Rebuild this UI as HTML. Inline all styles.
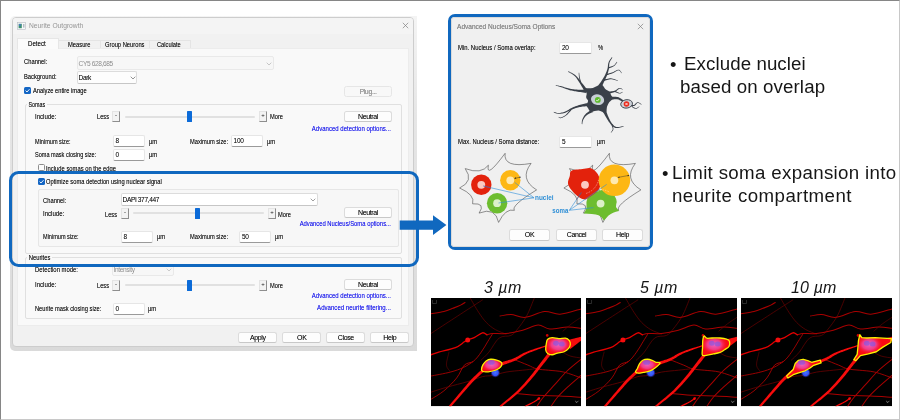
<!DOCTYPE html>
<html>
<head>
<meta charset="utf-8">
<title>Neurite Outgrowth</title>
<style>
html,body{margin:0;padding:0;}
body{width:900px;height:420px;position:relative;overflow:hidden;background:#fff;font-family:"Liberation Sans",sans-serif;}
#frame{position:absolute;left:0;top:0;width:898px;height:418px;border:1px solid;border-color:#868686 #c8c8c8 #c8c8c8 #868686;}
.abs{position:absolute;}
.t{position:absolute;font-size:7px;line-height:8px;color:#141414;white-space:nowrap;transform-origin:0 50%;text-shadow:0 0 0.5px rgba(0,0,0,0.5);}
.g{color:#9a9a9a;text-shadow:none;}
.lnk{color:#1515f2;text-shadow:0 0 0.5px rgba(26,26,214,0.5);left:auto;right:509px;transform-origin:100% 50%;}
.btn{position:absolute;box-sizing:border-box;background:#fdfdfd;border:1px solid #dcdcdc;border-bottom-color:#c8c8c8;border-radius:2.5px;font-size:7px;line-height:9px;text-align:center;color:#141414;letter-spacing:-0.38px;text-shadow:0 0 0.5px rgba(0,0,0,0.45);}
.inp{position:absolute;box-sizing:border-box;background:#fff;border:1px solid #e6e6e6;border-bottom:1px solid #9a9a9a;border-radius:2px;font-size:6.5px;line-height:9px;padding-left:2px;color:#1c1c1c;letter-spacing:-0.3px;text-shadow:0 0 0.5px rgba(0,0,0,0.4);}
.cmb{position:absolute;box-sizing:border-box;background:#fdfdfd;border:1px solid #dcdcdc;border-bottom-color:#c6c6c6;border-radius:2px;font-size:6.6px;line-height:11px;padding-left:0.5px;color:#1c1c1c;letter-spacing:-0.38px;text-shadow:0 0 0.5px rgba(0,0,0,0.4);}
.cmb.dis{background:#f7f7f7;border-color:#e9e9e9;color:#8e8e8e;text-shadow:none;}
.grp{position:absolute;box-sizing:border-box;border:1px solid #e0e0e0;border-radius:2px;}
.sbtn{position:absolute;box-sizing:border-box;width:8.4px;height:10.6px;background:#f3f3f3;border:1px solid #e4e4e4;border-right:1.2px solid #8e8e8e;border-bottom:1.2px solid #8e8e8e;font-size:6px;line-height:7.5px;text-align:center;color:#222;margin-left:-0.3px;}
.trk{position:absolute;height:2.4px;background:#e1e1e1;border-radius:1px;}
.thm{position:absolute;width:5.6px;height:11.3px;background:#0c6bd8;border-radius:0.6px;margin-left:-0.3px;}
.chk{position:absolute;box-sizing:border-box;width:7px;height:7px;border-radius:1.5px;}
.chk.on{background:#1466c4;}
.chk.off{background:#fcfcfc;border:1px solid #8c8c8c;}
.big{position:absolute;white-space:nowrap;color:#161616;will-change:transform;}
</style>
</head>
<body>
<div id="root" style="position:absolute;left:0;top:0;width:900px;height:420px;will-change:transform;">
<div id="frame"></div>

<!-- ===== Main dialog ===== -->
<div class="abs" style="left:10px;top:16px;width:407.2px;height:334.5px;border-radius:5px 0 0 5px;background:linear-gradient(to bottom,#f4f4f4 0,#e6e6e6 30%,#dadada 100%);"></div>
<div id="dlg1" class="abs" style="left:12px;top:17px;width:402px;height:329.8px;box-sizing:border-box;background:#f1f1f1;border:1px solid #cdcdcd;border-radius:4px;"></div>
<div class="abs" style="left:13px;top:18px;width:400px;height:15.6px;background:#f4f4f4;border-radius:3px 3px 0 0;"></div>
<div id="panel1" class="abs" style="left:17px;top:48px;width:392.3px;height:277.6px;background:#f9f9f9;border:1px solid #ececec;box-sizing:border-box;"></div>

<!-- title -->
<svg class="abs" style="left:17px;top:22px" width="9" height="8" viewBox="0 0 9 8"><rect x="0.5" y="0.5" width="8" height="7" fill="#f7f8f9" stroke="#b4bac0" stroke-width="0.6"/><rect x="1.6" y="1.8" width="3.2" height="4.4" fill="#3c8f70"/><rect x="2" y="2" width="1.8" height="1.8" fill="#4a78c4"/><rect x="6.4" y="2" width="0.9" height="3.6" fill="#8a949e"/></svg>
<div class="t g" style="left:29px;top:22px;font-size:7.3px;color:#949494;transform:scaleX(0.916)">Neurite Outgrowth</div>
<svg class="abs" style="left:402px;top:22px" width="7" height="7" viewBox="0 0 7 7"><path d="M0.8 0.8 L6.2 6.2 M6.2 0.8 L0.8 6.2" stroke="#808080" stroke-width="0.7" fill="none"/></svg>

<!-- tabs -->
<div class="abs" style="left:58px;top:40px;width:133px;height:8px;background:#f1f1f1;border-top:1px solid #e4e4e4;border-right:1px solid #e4e4e4;box-sizing:border-box;"></div>
<div class="abs" style="left:100px;top:40px;width:1px;height:8px;background:#e4e4e4"></div>
<div class="abs" style="left:149px;top:40px;width:1px;height:8px;background:#e4e4e4"></div>
<div class="abs" style="left:17px;top:38px;width:42px;height:11px;background:#fbfbfb;border:1px solid #e6e6e6;border-bottom:none;box-sizing:border-box;"></div>
<div class="t" style="left:28px;top:40px;transform:scaleX(0.877)">Detect</div>
<div class="t" style="left:68px;top:41px;transform:scaleX(0.826)">Measure</div>
<div class="t" style="left:105px;top:41px;transform:scaleX(0.825)">Group Neurons</div>
<div class="t" style="left:157px;top:41px;transform:scaleX(0.814)">Calculate</div>

<!-- channel / background -->
<div class="t" style="left:24px;top:58px;transform:scaleX(0.829)">Channel:</div>
<div class="cmb dis" style="left:77px;top:56px;width:197px;height:14px;line-height:13px">CY5 628,685</div>
<svg class="abs" style="left:266px;top:62px" width="6" height="4" viewBox="0 0 6 4"><path d="M0.7 0.7 L3 3 L5.3 0.7" stroke="#b0b0b0" stroke-width="0.7" fill="none"/></svg>
<div class="t" style="left:24px;top:73px;transform:scaleX(0.827)">Background:</div>
<div class="cmb" style="left:77px;top:71px;width:60px;height:13px;line-height:12px">Dark</div>
<svg class="abs" style="left:130px;top:76px" width="6" height="4" viewBox="0 0 6 4"><path d="M0.7 0.7 L3 3 L5.3 0.7" stroke="#666" stroke-width="0.7" fill="none"/></svg>
<div class="chk on" style="left:24px;top:87px"></div>
<svg class="abs" style="left:24px;top:87px" width="7" height="7" viewBox="0 0 7 7"><path d="M1.6 3.6 L3 5 L5.5 2.2" stroke="#fff" stroke-width="0.9" fill="none"/></svg>
<div class="t" style="left:33px;top:87px;transform:scaleX(0.822)">Analyze entire image</div>
<div class="btn" style="left:344px;top:86px;width:48px;height:11px;color:#a0a0a0;background:#f8f8f8;border-color:#e6e6e6">Plug...</div>

<!-- Somas group -->
<div class="grp" style="left:25px;top:104px;width:376.6px;height:150px"></div>
<div class="t" style="left:27px;top:100.6px;background:#f9f9f9;padding:0 2px;transform:scaleX(0.768)">Somas</div>
<div class="t" style="left:35px;top:112.6px;transform:scaleX(0.866)">Include:</div>
<div class="t" style="left:97px;top:112.6px;transform:scaleX(0.811)">Less</div>
<div class="sbtn" style="left:112px;top:111px">-</div>
<div class="trk" style="left:125px;top:116px;width:130px;"></div>
<div class="thm" style="left:187px;top:111px;"></div>
<div class="sbtn" style="left:259px;top:111px">+</div>
<div class="t" style="left:270px;top:112.6px;transform:scaleX(0.815)">More</div>
<div class="btn" style="left:344px;top:111px;width:48px;height:11px">Neutral</div>
<div class="t lnk" style="top:125px;transform:scaleX(0.860)">Advanced detection options...</div>
<div class="t" style="left:35px;top:137.6px;transform:scaleX(0.794)">Minimum size:</div>
<div class="inp" style="left:112.5px;top:135px;width:32px;height:12px">8</div>
<div class="t" style="left:149px;top:137.6px;transform:scaleX(0.835)">µm</div>
<div class="t" style="left:190px;top:137.6px;transform:scaleX(0.814)">Maximum size:</div>
<div class="inp" style="left:230.6px;top:135px;width:32.2px;height:12px">100</div>
<div class="t" style="left:267px;top:137.6px;transform:scaleX(0.835)">µm</div>
<div class="t" style="left:35px;top:150.6px;transform:scaleX(0.795)">Soma mask closing size:</div>
<div class="inp" style="left:112.5px;top:149px;width:32px;height:12px">0</div>
<div class="t" style="left:149px;top:150.6px;transform:scaleX(0.835)">µm</div>
<div class="chk off" style="left:38px;top:164px"></div>
<div class="t" style="left:46px;top:164.6px;transform:scaleX(0.833)">Include somas on the edge</div>
<div class="chk on" style="left:38px;top:178px"></div>
<svg class="abs" style="left:38px;top:178px" width="7" height="7" viewBox="0 0 7 7"><path d="M1.6 3.6 L3 5 L5.5 2.2" stroke="#fff" stroke-width="0.9" fill="none"/></svg>
<div class="t" style="left:46px;top:178px;transform:scaleX(0.822)">Optimize soma detection using nuclear signal</div>

<!-- nuclear sub group -->
<div class="grp" style="left:38px;top:189px;width:361px;height:58px;background:#f7f7f7;border-color:#e6e6e6"></div>
<div class="t" style="left:43px;top:197.0px;transform:scaleX(0.829)">Channel:</div>
<div class="cmb" style="left:121px;top:193px;width:197px;height:13px;line-height:12px;background:#fff">DAPI 377,447</div>
<svg class="abs" style="left:310px;top:198px" width="6" height="4" viewBox="0 0 6 4"><path d="M0.7 0.7 L3 3 L5.3 0.7" stroke="#777" stroke-width="0.7" fill="none"/></svg>
<div class="t" style="left:43px;top:209.7px;transform:scaleX(0.866)">Include:</div>
<div class="t" style="left:105px;top:211.0px;transform:scaleX(0.811)">Less</div>
<div class="sbtn" style="left:121px;top:208px">-</div>
<div class="trk" style="left:133px;top:212px;width:131px;"></div>
<div class="thm" style="left:195px;top:208px;"></div>
<div class="sbtn" style="left:268px;top:208px">+</div>
<div class="t" style="left:278px;top:211.0px;transform:scaleX(0.815)">More</div>
<div class="btn" style="left:344px;top:207px;width:48px;height:11px">Neutral</div>
<div class="t lnk" style="top:220px;transform:scaleX(0.838)">Advanced Nucleus/Soma options...</div>
<div class="t" style="left:43px;top:232.6px;transform:scaleX(0.794)">Minimum size:</div>
<div class="inp" style="left:120.6px;top:231px;width:32px;height:12px">8</div>
<div class="t" style="left:157px;top:232.6px;transform:scaleX(0.835)">µm</div>
<div class="t" style="left:190px;top:232.6px;transform:scaleX(0.814)">Maximum size:</div>
<div class="inp" style="left:239px;top:231px;width:32px;height:12px">50</div>
<div class="t" style="left:275px;top:232.6px;transform:scaleX(0.835)">µm</div>

<!-- Neurites group -->
<div class="grp" style="left:25px;top:257px;width:376.6px;height:61.6px"></div>
<div class="t" style="left:27px;top:254px;background:#f9f9f9;padding:0 2px;transform:scaleX(0.834)">Neurites</div>
<div class="t" style="left:35px;top:266px;transform:scaleX(0.843)">Detection mode:</div>
<div class="cmb dis" style="left:112px;top:265px;width:61.5px;height:10.5px;line-height:7.6px">Intensity</div>
<svg class="abs" style="left:166px;top:268px" width="6" height="4" viewBox="0 0 6 4"><path d="M0.7 0.7 L3 3 L5.3 0.7" stroke="#b8b8b8" stroke-width="0.7" fill="none"/></svg>
<div class="t" style="left:35px;top:281px;transform:scaleX(0.866)">Include:</div>
<div class="t" style="left:97px;top:282px;transform:scaleX(0.811)">Less</div>
<div class="sbtn" style="left:112px;top:280px">-</div>
<div class="trk" style="left:125px;top:284px;width:130px;"></div>
<div class="thm" style="left:187px;top:280px;"></div>
<div class="sbtn" style="left:259px;top:280px">+</div>
<div class="t" style="left:270px;top:282px;transform:scaleX(0.815)">More</div>
<div class="btn" style="left:344px;top:279px;width:48px;height:11px">Neutral</div>
<div class="t lnk" style="top:292px;transform:scaleX(0.860)">Advanced detection options...</div>
<div class="t lnk" style="top:304px;transform:scaleX(0.869)">Advanced neurite filtering...</div>
<div class="t" style="left:35px;top:305px;transform:scaleX(0.815)">Neurite mask closing size:</div>
<div class="inp" style="left:112.5px;top:303px;width:32px;height:12px">0</div>
<div class="t" style="left:148px;top:305px;transform:scaleX(0.835)">µm</div>

<!-- bottom buttons -->
<div class="btn" style="left:238.3px;top:331.6px;width:39px;height:11px">Apply</div>
<div class="btn" style="left:282.3px;top:331.6px;width:39px;height:11px">OK</div>
<div class="btn" style="left:326.3px;top:331.6px;width:39px;height:11px">Close</div>
<div class="btn" style="left:370.3px;top:331.6px;width:39px;height:11px">Help</div>

<!-- blue highlight + arrow -->
<div class="abs" style="left:8.6px;top:171.2px;width:410.6px;height:95.4px;box-sizing:border-box;border:3.1px solid #1068bf;border-radius:9.5px;"></div>
<svg class="abs" style="left:398px;top:212px" width="50" height="26" viewBox="398 212 50 26"><path d="M399.7 220.4 H433 V215.2 L446.4 225 L433 234.9 V229.7 H399.7 Z" fill="#1068bf"/></svg>

<!-- ===== Advanced dialog ===== -->
<div class="abs" style="left:448px;top:13.7px;width:205px;height:236.5px;box-sizing:border-box;border:3.1px solid #1068bf;border-radius:7px;background:#fbfbfb;"></div>
<div class="abs" style="left:451px;top:17px;width:199px;height:230px;box-sizing:border-box;border:1px solid #dadada;border-radius:3px;background:#f0f0f0;"></div>
<div class="t" style="left:457px;top:23px;font-size:7.3px;color:#949494;transform:scaleX(0.900)">Advanced Nucleus/Soma Options</div>
<svg class="abs" style="left:637px;top:23px" width="7" height="7" viewBox="0 0 7 7"><path d="M0.8 0.8 L6.2 6.2 M6.2 0.8 L0.8 6.2" stroke="#808080" stroke-width="0.7" fill="none"/></svg>
<div class="t" style="left:458px;top:44px;transform:scaleX(0.848)">Min. Nucleus / Soma overlap:</div>
<div class="inp" style="left:559px;top:42px;width:33px;height:12px">20</div>
<div class="t" style="left:598px;top:44px;transform:scaleX(0.829)">%</div>
<div class="t" style="left:458px;top:137.9px;transform:scaleX(0.842)">Max. Nucleus / Soma distance:</div>
<div class="inp" style="left:559px;top:135.6px;width:33px;height:12.2px">5</div>
<div class="t" style="left:597px;top:137.5px;transform:scaleX(0.835)">µm</div>
<div class="btn" style="left:509px;top:229px;width:41px;height:12px;line-height:10px">OK</div>
<div class="btn" style="left:556px;top:229px;width:41px;height:12px;line-height:10px">Cancel</div>
<div class="btn" style="left:602px;top:229px;width:41px;height:12px;line-height:10px">Help</div>

<!-- neuron + diagrams -->
<svg class="abs" style="left:548px;top:54px" width="100" height="82" viewBox="548 54 100 82">
<g fill="#3a4049">
<path d="M601.73 87.42 L601.90 86.54 L602.35 85.46 L602.94 84.19 L603.61 82.80 L604.32 81.35 L605.02 79.91 L605.66 78.55 L606.21 77.33 L606.66 76.23 L607.07 75.18 L607.44 74.16 L607.77 73.18 L608.08 72.22 L608.35 71.28 L608.59 70.35 L608.82 69.42 L608.99 68.48 L609.10 67.55 L609.15 66.65 L609.18 65.79 L609.22 64.97 L609.27 64.19 L609.38 63.44 L609.54 62.74 L609.80 62.03 L610.15 61.28 L610.55 60.54 L610.98 59.82 L611.41 59.14 L611.81 58.53 L612.15 58.02 L612.39 57.62 L611.80 57.24 L611.54 57.61 L611.19 58.10 L610.75 58.69 L610.28 59.35 L609.79 60.07 L609.32 60.83 L608.89 61.61 L608.55 62.40 L608.31 63.21 L608.14 64.03 L608.02 64.86 L607.94 65.71 L607.85 66.55 L607.74 67.39 L607.59 68.22 L607.37 69.06 L607.10 69.91 L606.80 70.79 L606.47 71.67 L606.11 72.56 L605.71 73.47 L605.28 74.41 L604.80 75.39 L604.27 76.39 L603.64 77.50 L602.89 78.74 L602.05 80.07 L601.17 81.39 L600.30 82.66 L599.49 83.79 L598.76 84.73 L598.08 85.34Z"/>
<path d="M608.88 68.38 L609.26 68.16 L609.79 67.95 L610.45 67.72 L611.18 67.46 L611.95 67.17 L612.70 66.85 L613.40 66.50 L614.02 66.12 L614.56 65.66 L615.07 65.13 L615.55 64.56 L615.99 63.97 L616.38 63.40 L616.73 62.89 L617.02 62.46 L617.25 62.15 L616.85 61.85 L616.60 62.15 L616.29 62.57 L615.92 63.07 L615.51 63.60 L615.06 64.15 L614.58 64.67 L614.09 65.13 L613.60 65.50 L613.04 65.80 L612.38 66.08 L611.64 66.32 L610.89 66.54 L610.15 66.73 L609.48 66.88 L608.90 67.00 L608.45 67.05Z"/>
<path d="M606.99 75.34 L607.43 75.11 L608.05 74.88 L608.79 74.62 L609.62 74.34 L610.49 74.04 L611.38 73.73 L612.23 73.41 L613.03 73.10 L613.80 72.73 L614.58 72.29 L615.35 71.82 L616.10 71.36 L616.81 70.94 L617.47 70.61 L618.06 70.39 L618.55 70.33 L618.98 70.42 L619.40 70.67 L619.83 71.06 L620.23 71.53 L620.59 72.03 L620.91 72.51 L621.19 72.92 L621.42 73.20 L621.82 72.89 L621.61 72.63 L621.35 72.22 L621.04 71.72 L620.68 71.19 L620.26 70.66 L619.78 70.19 L619.22 69.84 L618.59 69.67 L617.91 69.74 L617.21 69.96 L616.47 70.29 L615.71 70.69 L614.94 71.12 L614.17 71.55 L613.41 71.93 L612.68 72.24 L611.91 72.49 L611.06 72.75 L610.17 73.00 L609.29 73.23 L608.45 73.44 L607.68 73.62 L607.04 73.75 L606.53 73.81Z"/>
<path d="M604.11 81.06 L604.64 80.81 L605.35 80.54 L606.20 80.24 L607.14 79.93 L608.13 79.64 L609.12 79.40 L610.07 79.23 L610.94 79.17 L611.81 79.23 L612.76 79.39 L613.74 79.63 L614.72 79.92 L615.65 80.22 L616.49 80.50 L617.20 80.74 L617.73 80.90 L617.89 80.43 L617.37 80.25 L616.68 79.99 L615.85 79.66 L614.92 79.32 L613.93 78.99 L612.92 78.69 L611.92 78.47 L610.96 78.35 L609.99 78.37 L608.96 78.48 L607.90 78.66 L606.86 78.88 L605.88 79.11 L605.00 79.32 L604.26 79.48 L603.70 79.51Z"/>
<path d="M586.92 88.80 L586.33 88.37 L585.70 87.67 L584.99 86.82 L584.22 85.87 L583.42 84.86 L582.64 83.85 L581.90 82.89 L581.23 82.04 L580.63 81.27 L580.05 80.50 L579.48 79.75 L578.92 79.02 L578.37 78.31 L577.83 77.65 L577.29 77.02 L576.75 76.44 L576.22 75.92 L575.71 75.47 L575.21 75.06 L574.71 74.70 L574.23 74.36 L573.73 74.05 L573.24 73.74 L572.72 73.43 L572.14 73.10 L571.51 72.77 L570.86 72.45 L570.21 72.15 L569.59 71.87 L569.04 71.62 L568.57 71.42 L568.23 71.26 L567.96 71.79 L568.30 71.97 L568.75 72.21 L569.29 72.49 L569.89 72.80 L570.51 73.14 L571.12 73.49 L571.71 73.84 L572.23 74.19 L572.72 74.53 L573.19 74.86 L573.63 75.19 L574.07 75.54 L574.50 75.91 L574.93 76.31 L575.37 76.76 L575.83 77.28 L576.29 77.85 L576.75 78.48 L577.22 79.16 L577.70 79.89 L578.18 80.65 L578.68 81.45 L579.19 82.27 L579.72 83.10 L580.29 84.01 L580.91 85.04 L581.57 86.13 L582.21 87.23 L582.82 88.30 L583.34 89.27 L583.76 90.11 L583.94 90.82Z"/>
<path d="M581.21 82.03 L581.01 81.63 L580.83 81.07 L580.62 80.41 L580.41 79.68 L580.21 78.91 L580.01 78.15 L579.84 77.43 L579.70 76.80 L579.60 76.20 L579.51 75.60 L579.43 74.99 L579.37 74.41 L579.32 73.86 L579.27 73.38 L579.23 72.96 L579.20 72.65 L578.70 72.69 L578.72 73.00 L578.73 73.41 L578.75 73.90 L578.77 74.45 L578.80 75.05 L578.84 75.67 L578.90 76.30 L578.96 76.92 L579.06 77.58 L579.17 78.32 L579.31 79.11 L579.44 79.89 L579.57 80.65 L579.68 81.34 L579.75 81.91 L579.74 82.35Z"/>
<path d="M586.32 89.54 L585.55 89.71 L584.53 89.77 L583.32 89.79 L581.99 89.80 L580.61 89.78 L579.23 89.74 L577.93 89.68 L576.78 89.61 L575.74 89.52 L574.75 89.43 L573.80 89.33 L572.88 89.21 L571.97 89.08 L571.06 88.93 L570.15 88.77 L569.22 88.58 L568.26 88.35 L567.29 88.08 L566.30 87.79 L565.30 87.47 L564.32 87.16 L563.36 86.85 L562.43 86.57 L561.55 86.33 L560.69 86.12 L559.83 85.93 L558.98 85.75 L558.17 85.59 L557.43 85.45 L556.76 85.32 L556.21 85.22 L555.78 85.14 L555.65 85.72 L556.08 85.83 L556.63 85.96 L557.28 86.11 L558.02 86.29 L558.81 86.49 L559.64 86.71 L560.48 86.94 L561.30 87.19 L562.15 87.47 L563.04 87.80 L563.97 88.15 L564.94 88.53 L565.92 88.90 L566.91 89.26 L567.90 89.60 L568.88 89.90 L569.83 90.16 L570.75 90.40 L571.68 90.61 L572.60 90.81 L573.54 91.00 L574.50 91.18 L575.50 91.36 L576.55 91.53 L577.73 91.72 L579.04 91.90 L580.43 92.09 L581.82 92.28 L583.14 92.46 L584.34 92.65 L585.33 92.84 L586.06 93.13Z"/>
<path d="M587.46 102.88 L586.94 103.15 L586.23 103.34 L585.36 103.54 L584.38 103.74 L583.34 103.96 L582.27 104.20 L581.22 104.45 L580.22 104.72 L579.27 105.00 L578.32 105.31 L577.36 105.63 L576.40 105.97 L575.43 106.33 L574.47 106.71 L573.50 107.11 L572.54 107.53 L571.56 108.01 L570.58 108.54 L569.61 109.10 L568.66 109.66 L567.72 110.21 L566.80 110.73 L565.90 111.18 L565.04 111.56 L564.18 111.88 L563.32 112.16 L562.47 112.40 L561.63 112.61 L560.82 112.78 L560.03 112.90 L559.28 112.98 L558.58 113.02 L557.90 112.99 L557.22 112.88 L556.54 112.72 L555.89 112.52 L555.28 112.31 L554.74 112.10 L554.27 111.93 L553.91 111.81 L553.71 112.38 L554.06 112.50 L554.50 112.69 L555.04 112.92 L555.66 113.17 L556.33 113.41 L557.05 113.62 L557.80 113.77 L558.56 113.84 L559.33 113.83 L560.13 113.78 L560.96 113.69 L561.82 113.56 L562.70 113.38 L563.60 113.17 L564.51 112.92 L565.44 112.63 L566.39 112.28 L567.36 111.85 L568.33 111.37 L569.32 110.86 L570.30 110.36 L571.28 109.87 L572.23 109.42 L573.18 109.04 L574.12 108.70 L575.07 108.37 L576.03 108.07 L576.98 107.79 L577.94 107.53 L578.88 107.30 L579.82 107.09 L580.73 106.90 L581.68 106.74 L582.69 106.61 L583.73 106.50 L584.76 106.42 L585.73 106.37 L586.62 106.34 L587.37 106.34 L587.97 106.45Z"/>
<path d="M570.77 108.75 L570.44 109.28 L569.95 109.95 L569.35 110.73 L568.69 111.58 L567.98 112.45 L567.27 113.28 L566.57 114.03 L565.93 114.64 L565.30 115.16 L564.64 115.64 L563.96 116.09 L563.29 116.49 L562.64 116.84 L562.02 117.13 L561.46 117.36 L560.98 117.52 L560.58 117.60 L560.23 117.58 L559.91 117.50 L559.61 117.37 L559.34 117.22 L559.10 117.06 L558.87 116.91 L558.68 116.82 L558.46 117.27 L558.62 117.35 L558.81 117.48 L559.06 117.66 L559.37 117.84 L559.72 118.01 L560.14 118.13 L560.61 118.17 L561.12 118.09 L561.66 117.93 L562.27 117.70 L562.92 117.42 L563.61 117.08 L564.33 116.70 L565.05 116.26 L565.76 115.78 L566.45 115.26 L567.17 114.64 L567.93 113.90 L568.71 113.09 L569.48 112.25 L570.21 111.45 L570.87 110.72 L571.44 110.12 L571.90 109.73Z"/>
<path d="M591.43 109.29 L591.08 109.78 L590.49 110.26 L589.74 110.80 L588.90 111.39 L588.02 112.01 L587.15 112.66 L586.34 113.32 L585.64 113.97 L585.05 114.64 L584.52 115.33 L584.04 116.05 L583.61 116.77 L583.22 117.49 L582.88 118.19 L582.58 118.87 L582.31 119.53 L582.10 120.19 L581.95 120.87 L581.85 121.54 L581.79 122.18 L581.76 122.78 L581.74 123.30 L581.73 123.73 L581.70 124.06 L582.30 124.13 L582.35 123.79 L582.40 123.35 L582.46 122.84 L582.54 122.27 L582.64 121.67 L582.79 121.06 L582.97 120.47 L583.21 119.90 L583.51 119.32 L583.86 118.71 L584.25 118.08 L584.67 117.44 L585.14 116.82 L585.64 116.23 L586.18 115.67 L586.74 115.17 L587.39 114.69 L588.19 114.21 L589.08 113.74 L590.00 113.30 L590.91 112.91 L591.76 112.57 L592.51 112.31 L593.14 112.23Z"/>
<path d="M602.75 111.94 L603.25 112.43 L603.73 113.18 L604.27 114.11 L604.86 115.14 L605.46 116.23 L606.06 117.32 L606.65 118.34 L607.20 119.25 L607.71 120.07 L608.22 120.86 L608.73 121.63 L609.24 122.37 L609.76 123.08 L610.28 123.75 L610.82 124.38 L611.37 124.96 L611.90 125.49 L612.42 125.99 L612.95 126.47 L613.50 126.91 L614.09 127.31 L614.73 127.64 L615.44 127.89 L616.21 128.04 L617.11 128.07 L618.12 127.97 L619.18 127.78 L620.26 127.54 L621.30 127.27 L622.24 127.02 L623.01 126.81 L623.58 126.68 L623.46 126.09 L622.88 126.19 L622.08 126.35 L621.13 126.55 L620.10 126.75 L619.04 126.92 L618.01 127.04 L617.10 127.08 L616.36 127.00 L615.76 126.84 L615.22 126.60 L614.73 126.30 L614.26 125.94 L613.81 125.53 L613.37 125.06 L612.91 124.54 L612.44 123.99 L611.98 123.42 L611.53 122.81 L611.10 122.15 L610.67 121.44 L610.24 120.70 L609.82 119.91 L609.41 119.10 L608.99 118.27 L608.57 117.35 L608.12 116.31 L607.67 115.19 L607.24 114.05 L606.85 112.94 L606.51 111.93 L606.26 111.06 L606.20 110.35Z"/>
<path d="M611.23 124.67 L611.44 125.04 L611.66 125.54 L611.91 126.14 L612.16 126.79 L612.38 127.46 L612.56 128.12 L612.67 128.71 L612.69 129.20 L612.60 129.62 L612.41 130.07 L612.15 130.53 L611.84 130.97 L611.51 131.38 L611.20 131.75 L610.94 132.07 L610.75 132.32 L611.15 132.63 L611.33 132.40 L611.61 132.11 L611.94 131.75 L612.30 131.34 L612.67 130.88 L612.99 130.39 L613.25 129.85 L613.41 129.28 L613.43 128.66 L613.36 127.97 L613.23 127.25 L613.06 126.52 L612.88 125.82 L612.71 125.19 L612.59 124.67 L612.58 124.28Z"/>
<path d="M608.91 93.94 L609.34 93.67 L609.96 93.47 L610.72 93.25 L611.57 93.03 L612.47 92.78 L613.36 92.52 L614.22 92.23 L615.00 91.91 L615.72 91.52 L616.40 91.05 L617.03 90.54 L617.63 90.03 L618.19 89.56 L618.71 89.14 L619.19 88.83 L619.61 88.65 L620.00 88.59 L620.40 88.63 L620.80 88.75 L621.20 88.93 L621.57 89.14 L621.91 89.35 L622.22 89.53 L622.46 89.65 L622.69 89.21 L622.48 89.09 L622.21 88.90 L621.88 88.66 L621.49 88.40 L621.05 88.16 L620.56 87.98 L620.01 87.88 L619.44 87.92 L618.85 88.12 L618.26 88.44 L617.65 88.84 L617.04 89.28 L616.41 89.72 L615.78 90.14 L615.15 90.49 L614.52 90.75 L613.82 90.95 L613.01 91.12 L612.15 91.25 L611.26 91.35 L610.41 91.43 L609.63 91.47 L608.95 91.48 L608.42 91.39Z"/>
<path d="M614.50 91.93 L614.91 92.01 L615.44 92.21 L616.07 92.47 L616.77 92.75 L617.50 93.04 L618.22 93.29 L618.89 93.48 L619.49 93.57 L620.04 93.56 L620.56 93.44 L621.04 93.26 L621.47 93.04 L621.86 92.81 L622.20 92.60 L622.47 92.43 L622.68 92.32 L622.46 91.87 L622.23 91.98 L621.93 92.15 L621.59 92.34 L621.22 92.53 L620.81 92.71 L620.40 92.84 L619.97 92.91 L619.56 92.90 L619.07 92.79 L618.47 92.58 L617.81 92.29 L617.13 91.96 L616.48 91.61 L615.88 91.28 L615.38 90.99 L615.02 90.74Z"/>
<path d="M611.39 99.79 L611.90 99.63 L612.58 99.51 L613.37 99.40 L614.23 99.30 L615.11 99.22 L615.97 99.18 L616.74 99.19 L617.39 99.26 L617.96 99.40 L618.53 99.59 L619.11 99.84 L619.68 100.13 L620.24 100.45 L620.80 100.79 L621.36 101.13 L621.89 101.44 L622.40 101.74 L622.91 102.06 L623.41 102.40 L623.88 102.74 L624.33 103.06 L624.72 103.35 L625.06 103.59 L625.33 103.78 L626.29 102.50 L626.04 102.31 L625.72 102.05 L625.34 101.74 L624.90 101.38 L624.42 101.01 L623.92 100.62 L623.39 100.24 L622.87 99.89 L622.36 99.55 L621.84 99.19 L621.28 98.80 L620.68 98.41 L620.04 98.03 L619.36 97.68 L618.64 97.37 L617.85 97.12 L616.98 96.95 L616.05 96.85 L615.08 96.80 L614.13 96.78 L613.22 96.76 L612.41 96.75 L611.76 96.72 L611.28 96.59Z"/>
<path d="M630.79 105.83 L631.03 105.80 L631.34 105.84 L631.75 105.92 L632.22 106.01 L632.74 106.08 L633.28 106.11 L633.83 106.06 L634.38 105.91 L634.89 105.59 L635.35 105.17 L635.78 104.69 L636.19 104.19 L636.59 103.72 L636.98 103.33 L637.34 103.05 L637.67 102.93 L638.04 102.93 L638.51 103.06 L639.04 103.30 L639.58 103.60 L640.10 103.93 L640.58 104.24 L640.99 104.51 L641.30 104.69 L641.56 104.26 L641.27 104.08 L640.89 103.80 L640.42 103.46 L639.90 103.09 L639.33 102.74 L638.75 102.45 L638.17 102.26 L637.57 102.22 L637.00 102.39 L636.49 102.73 L636.01 103.15 L635.55 103.62 L635.11 104.08 L634.70 104.49 L634.32 104.79 L634.00 104.95 L633.68 105.01 L633.31 105.00 L632.90 104.93 L632.49 104.82 L632.09 104.69 L631.72 104.54 L631.38 104.40 L631.11 104.26Z"/>
<path d="M631.20 106.70 L631.56 106.83 L632.01 107.09 L632.56 107.43 L633.16 107.80 L633.80 108.16 L634.45 108.48 L635.09 108.70 L635.71 108.79 L636.31 108.70 L636.90 108.47 L637.47 108.15 L638.02 107.78 L638.53 107.39 L638.98 107.03 L639.35 106.74 L639.63 106.55 L639.41 106.21 L639.11 106.40 L638.72 106.69 L638.25 107.02 L637.74 107.37 L637.21 107.69 L636.67 107.96 L636.16 108.12 L635.72 108.17 L635.27 108.07 L634.74 107.84 L634.17 107.52 L633.60 107.13 L633.05 106.71 L632.56 106.32 L632.14 105.97 L631.84 105.68Z"/>
<path d="M583.9 88.7 C585.0 87.8 590.0 88.6 592.9 87.9 C595.7 87.2 598.9 84.3 601.0 84.5 C603.2 84.7 604.2 88.0 605.6 89.2 C607.0 90.4 608.5 90.7 609.4 91.7 C610.4 92.8 610.8 94.4 611.3 95.5 C611.9 96.6 613.2 97.3 612.9 98.4 C612.5 99.5 610.4 100.7 609.4 102.0 C608.5 103.3 607.8 104.6 607.1 106.4 C606.5 108.2 607.0 112.0 605.6 112.7 C604.2 113.3 601.0 110.6 598.6 110.4 C596.1 110.2 592.7 111.9 591.0 111.5 C589.2 111.2 588.8 109.4 588.1 108.3 C587.4 107.2 586.6 106.3 586.6 105.0 C586.6 103.8 588.2 101.9 588.1 100.7 C588.0 99.4 586.4 98.7 586.2 97.4 C585.9 96.2 587.0 94.5 586.6 93.0 C586.2 91.6 582.9 89.5 583.9 88.7Z"/>
</g>
<ellipse cx="597.6" cy="99.7" rx="6.7" ry="5.3" transform="rotate(14 597.6 99.7)" fill="#c7ced6"/>
<circle cx="597.8" cy="99.9" r="2.9" fill="#5dbb2d"/><path d="M596.3 100 L597.4 101.1 L599.3 98.8" stroke="#fff" stroke-width="0.8" fill="none"/>
<ellipse cx="626.6" cy="103.9" rx="5.9" ry="4.2" transform="rotate(-8 626.6 103.9)" fill="#cdd2d9" stroke="#3a4049" stroke-width="0.9"/>
<circle cx="626.5" cy="104" r="2.8" fill="#ea2a1c"/><path d="M625.4 102.9 L627.6 105.1 M627.6 102.9 L625.4 105.1" stroke="#fff" stroke-width="0.8" fill="none"/>
</svg>
<svg class="abs" style="left:452px;top:148px" width="198" height="80" viewBox="452 148 198 80">
<path d="M465.2 168.6 Q481.4 174.7 488.4 165.2 Q485.6 179.7 505.1 153.3 Q503.2 168.4 531.1 163.4 Q519.0 179.0 536.6 189.9 Q510.7 205.7 514.4 210.3 Q505.6 208.0 498.6 222.4 Q495.4 206.6 479.1 213.1 Q486.1 202.9 472.6 203.8 Q475.4 195.0 459.6 188.0 Q474.3 181.1 465.2 168.6Z" fill="none" stroke="#3c3c3c" stroke-width="0.55" stroke-linejoin="miter"/>
<circle cx="481.3" cy="184.8" r="10.2" fill="#e3220c"/><circle cx="481.3" cy="184.8" r="3.9" fill="#fbc9c2"/>
<circle cx="510.3" cy="180.3" r="10.2" fill="#fdb714"/><circle cx="510.3" cy="180.3" r="3.9" fill="#fee9b0"/>
<circle cx="497.1" cy="203.2" r="10.2" fill="#6dbd2f"/><circle cx="497.1" cy="203.2" r="3.9" fill="#dcf0c8"/>
<path d="M514.5 178.4 L520.8 177" stroke="#333" stroke-width="0.45"/><path d="M514.3 178.4 l1.6 -1.1 l0.3 1.4z M521 177 l-1.7 -0.3 l0.3 1.4z" fill="#222"/>
<g stroke="#2f8fd6" stroke-width="0.6" fill="none"><path d="M483.4 186 L534 197.8"/><path d="M514.7 182.4 L534 197.8"/><path d="M498.5 203 L534 197.8"/></g>
<path d="M483.4 186 L491 187.8" stroke="#7a4a80" stroke-width="0.6" fill="none"/>
<path d="M569.5 168.6 Q585.7 174.7 592.7 165.2 Q589.9 179.7 609.4 153.3 Q607.5 168.4 635.4 163.4 Q623.3 179.0 640.9 189.9 Q615.0 205.7 618.7 210.3 Q609.9 208.0 602.9 222.4 Q599.7 206.6 583.4 213.1 Q590.4 202.9 576.9 203.8 Q579.7 195.0 563.9 188.0 Q578.6 181.1 569.5 168.6Z" fill="none" stroke="#3c3c3c" stroke-width="0.55"/>
<path d="M596.5 191.0 Q599.9 189.3 604.3 190.3 Q608.6 191.2 612.0 193.6 Q615.3 196.0 616.2 199.0 Q617.2 202.0 616.2 204.3 Q615.3 206.6 617.2 208.7 L619.0 210.9 L615.9 211.8 Q612.9 212.7 610.8 214.0 Q608.6 215.3 606.2 217.9 L603.8 220.5 L601.8 217.5 Q599.7 214.6 595.8 214.4 Q591.9 214.2 587.8 213.8 L583.8 213.5 L585.4 210.7 Q587.1 207.9 586.5 204.9 Q586.0 202.0 587.1 199.4 Q588.2 196.8 590.6 194.7 Q593.0 192.7 596.5 191.0Z" fill="#6dbd2f"/>
<path d="M571.5 170.8 C573.6 169.6 579.0 169.5 582.3 169.1 C585.5 168.7 588.4 167.4 591.0 168.2 C593.6 169.0 596.1 171.7 597.7 174.1 C599.2 176.5 600.1 179.8 600.3 182.5 C600.4 185.2 600.1 187.9 598.4 190.3 C596.7 192.6 592.3 195.2 590.1 196.8 C587.8 198.3 587.0 199.5 585.1 199.5 C583.1 199.5 580.4 198.3 578.2 196.8 C576.0 195.2 573.4 192.5 571.7 190.3 C570.0 188.0 568.3 185.8 568.0 183.4 C567.7 181.0 569.2 178.1 569.8 176.0 C570.4 173.9 569.4 171.9 571.5 170.8Z" fill="#e3220c"/>
<circle cx="614.4" cy="180.3" r="15.8" fill="#fdb714"/>
<circle cx="585" cy="184.8" r="3.9" fill="#fbc9c2"/><circle cx="614.4" cy="180.3" r="3.9" fill="#fee9b0"/><circle cx="600.6" cy="203.6" r="3.9" fill="#dcf0c8"/>
<g stroke="#f6ebe6" stroke-width="0.5" stroke-dasharray="1.6 1" fill="none" opacity="0.9"><path d="M586 193.5 Q596 190 598.5 180"/><path d="M597.5 191.5 Q603 188 610 192.5"/></g>
<path d="M618.2 177.4 L628.8 175.4" stroke="#333" stroke-width="0.45"/><path d="M617.6 177.5 l1.7 -1.1 l0.3 1.4z M629.4 175.3 l-1.8 -0.3 l0.3 1.4z" fill="#222"/>
<g stroke="#2f8fd6" stroke-width="0.6" fill="none"><path d="M569.3 210.3 L581.4 192.5"/><path d="M569.3 210.3 L606.7 184.4"/><path d="M569.3 210.3 L593.5 207.6"/></g>
<path d="M576.5 199.7 L581.4 192.5" stroke="#7a3850" stroke-width="0.6"/>
<text x="535" y="200" font-family="Liberation Sans, sans-serif" font-size="6.6" font-weight="bold" fill="#2f8fd6" textLength="18.5" lengthAdjust="spacingAndGlyphs">nuclei</text>
<text x="552.3" y="212.8" font-family="Liberation Sans, sans-serif" font-size="6.6" font-weight="bold" fill="#2f8fd6" textLength="16" lengthAdjust="spacingAndGlyphs">soma</text>
</svg>
<!-- ===== Big text ===== -->
<div class="big" id="b1" style="left:670px;top:53.6px;font-size:18.4px;line-height:22.8px;">•</div>
<div class="big" id="b1a" style="left:684.4px;top:52.8px;font-size:18.7px;line-height:22.8px;letter-spacing:0.09px;">Exclude nuclei</div>
<div class="big" id="b1b" style="left:679.6px;top:76px;font-size:18.7px;line-height:22.8px;letter-spacing:0.11px;">based on overlap</div>
<div class="big" id="b2" style="left:662px;top:162.7px;font-size:18.4px;line-height:22.8px;">•</div>
<div class="big" id="b2a" style="left:671.8px;top:162.4px;font-size:18.7px;line-height:22.8px;letter-spacing:0.34px;">Limit soma expansion into</div>
<div class="big" id="b2b" style="left:671.6px;top:184.9px;font-size:18.7px;line-height:22.8px;letter-spacing:0.45px;">neurite compartment</div>

<!-- ===== Image labels ===== -->
<div class="big" id="l1" style="left:484.2px;top:278.1px;font-size:16px;line-height:20px;font-style:italic;letter-spacing:0.5px;">3 µm</div>
<div class="big" id="l2" style="left:640.2px;top:278.1px;font-size:16px;line-height:20px;font-style:italic;letter-spacing:0.5px;">5 µm</div>
<div class="big" id="l3" style="left:791.2px;top:278.1px;font-size:16px;line-height:20px;font-style:italic;letter-spacing:0.15px;">10 µm</div>

<!-- ===== Images ===== -->
<svg width="0" height="0" style="position:absolute"><defs>
<radialGradient id="sg" cx="50%" cy="48%" r="50%"><stop offset="0" stop-color="#ea62c0"/><stop offset="0.5" stop-color="#f23a86"/><stop offset="1" stop-color="#fa0a12" stop-opacity="0"/></radialGradient>
<radialGradient id="bg" cx="50%" cy="45%" r="50%"><stop offset="0" stop-color="#4a72ff"/><stop offset="0.6" stop-color="#3050f6"/><stop offset="1" stop-color="#301a80" stop-opacity="0"/></radialGradient>
<filter id="bl" x="-5%" y="-5%" width="110%" height="110%"><feGaussianBlur stdDeviation="0.35"/></filter>
<symbol id="neur" viewBox="0 0 150 108" overflow="hidden"><rect width="150" height="108" fill="#000"/><g fill="none" stroke-linecap="round" stroke-linejoin="round" filter="url(#bl)">
<path d="M0.0 15.7 C2.1 15.3 9.2 14.4 12.9 13.5 C16.6 12.6 19.1 11.4 21.9 10.3 C24.7 9.2 27.6 8.1 29.6 7.1 C31.6 6.1 33.3 4.9 34.0 4.5" stroke="#a80000" stroke-width="1.1"/>
<path d="M0.0 35.4 C3.4 33.1 13.5 26.5 20.6 21.9 C27.7 17.3 37.4 11.0 42.5 7.7 C47.6 4.4 50.0 2.9 51.5 1.9" stroke="#6a0000" stroke-width="0.7"/>
<path d="M39.2 0.0 C40.6 2.4 44.9 10.1 47.6 14.2 C50.3 18.3 52.5 21.5 55.3 24.4 C58.1 27.3 61.0 29.6 64.3 31.5 C67.6 33.4 73.2 35.2 75.0 36.0" stroke="#6a0000" stroke-width="0.7"/>
<path d="M103.3 0.0 C102.0 3.0 98.4 12.9 95.6 18.0 C92.8 23.1 89.2 27.7 86.6 30.9 C84.0 34.1 83.1 35.8 80.0 37.3 C76.9 38.8 71.9 37.1 68.2 39.9 C64.5 42.7 60.9 50.3 57.9 54.0 C54.9 57.7 51.3 60.7 50.0 62.0" stroke="#6a0000" stroke-width="0.7"/>
<path d="M69.0 18.0 C70.8 17.8 75.8 16.3 80.0 16.5 C84.2 16.7 88.7 19.8 94.3 19.3 C99.9 18.8 107.8 14.0 113.6 13.5 C119.4 13.0 122.9 16.5 129.0 16.1 C135.1 15.7 146.5 11.8 150.0 10.9" stroke="#a80000" stroke-width="1.0"/>
<path d="M56.0 36.7 C57.0 36.5 58.6 35.6 61.8 35.4 C65.0 35.2 70.0 35.9 75.0 35.4 C80.0 34.9 86.3 33.6 91.7 32.2 C97.1 30.8 102.7 27.2 107.2 27.0 C111.7 26.8 113.8 30.6 118.7 30.9 C123.6 31.2 131.6 29.0 136.8 28.9 C142.0 28.8 147.8 30.0 150.0 30.2" stroke="#a80000" stroke-width="1.0"/>
<path d="M61.8 35.4 C60.9 36.8 58.5 40.6 56.6 43.7 C54.7 46.8 52.6 50.8 50.2 54.0 C47.9 57.2 45.3 60.9 42.5 63.0 C39.7 65.2 36.2 64.1 33.4 66.9 C30.6 69.7 29.1 75.4 25.7 79.7 C22.3 84.0 17.2 89.0 12.9 92.6 C8.6 96.1 2.1 99.6 0.0 101.0" stroke="#a80000" stroke-width="0.9"/>
<path d="M0.0 56.6 C1.3 56.2 3.6 55.2 7.7 54.0 C11.8 52.8 20.1 51.2 24.4 49.5 C28.7 47.8 31.3 45.0 33.4 43.7 C35.5 42.4 35.0 42.5 36.7 41.8 C38.4 41.0 41.2 40.4 43.7 39.2 C46.2 38.0 49.5 35.1 51.5 34.7 C53.5 34.3 55.2 36.4 56.0 36.7" stroke="#e40606" stroke-width="1.3"/>
<path d="M0.0 77.8 C3.2 77.2 13.9 75.3 19.3 73.9 C24.7 72.5 28.4 71.1 32.2 69.4 C36.0 67.7 40.4 64.5 42.0 63.5" stroke="#a80000" stroke-width="0.9"/>
<path d="M0.0 93.9 C2.8 93.0 10.7 90.4 16.7 88.7 C22.7 87.0 30.2 85.3 36.0 83.6 C41.8 81.9 47.2 79.5 51.5 78.4 C55.8 77.3 57.9 78.0 61.8 77.2 C65.7 76.5 70.0 74.8 75.0 73.9 C80.0 73.0 87.0 72.5 91.7 72.0 C96.4 71.5 101.4 70.9 103.3 70.7" stroke="#6a0000" stroke-width="0.8"/>
<path d="M18.0 54.0 C17.6 56.1 15.2 63.7 15.4 66.9 C15.6 70.1 18.7 72.2 19.3 73.3" stroke="#6a0000" stroke-width="0.6"/>
<path d="M84.0 61.7 C86.2 62.6 93.2 65.4 96.9 66.9 C100.6 68.4 102.5 69.9 105.9 70.7 C109.3 71.5 113.0 71.5 117.5 72.0 C122.0 72.5 127.5 72.6 132.9 73.9 C138.3 75.2 147.2 78.7 150.0 79.7" stroke="#a80000" stroke-width="0.9"/>
<path d="M150.0 61.1 C147.6 63.1 139.8 69.1 135.5 73.3 C131.2 77.5 127.8 81.9 123.9 86.2 C120.0 90.5 115.3 95.4 112.3 99.0 C109.3 102.6 107.0 106.5 105.9 108.0" stroke="#a80000" stroke-width="1.0"/>
<path d="M150.0 77.2 C147.8 79.1 140.7 85.1 136.8 88.7 C132.9 92.3 129.3 95.8 126.5 99.0 C123.7 102.2 121.1 106.5 120.0 108.0" stroke="#a80000" stroke-width="1.0"/>
<path d="M85.3 95.2 C89.0 95.5 99.9 96.7 107.2 97.1 C114.5 97.5 121.9 97.4 129.0 97.7 C136.1 98.0 146.5 98.8 150.0 99.0" stroke="#a80000" stroke-width="1.0"/>
<path d="M94.3 108.0 C95.8 107.2 100.9 104.9 103.3 103.5 C105.7 102.1 107.6 100.3 108.4 99.7" stroke="#f40808" stroke-width="1.3"/>
<path d="M131.6 54.0 C132.9 54.6 136.2 56.9 139.3 57.9 C142.4 58.9 148.2 59.5 150.0 59.8" stroke="#6a0000" stroke-width="0.7"/>
<path d="M150.0 19.3 C148.4 20.4 143.6 23.4 140.6 25.7 C137.6 28.0 133.4 31.8 132.0 33.0" stroke="#6a0000" stroke-width="0.6"/>
<path d="M137 42 L150 38.6 L150 42.6 L139 51 Z" fill="#f40808" stroke="none"/>
<path d="M51.97 70.34 L51.17 71.06 L50.11 72.00 L48.83 73.13 L47.40 74.40 L45.90 75.77 L44.37 77.18 L42.88 78.61 L41.49 80.00 L40.20 81.35 L38.96 82.71 L37.74 84.09 L36.52 85.51 L35.28 86.97 L34.00 88.49 L32.65 90.08 L31.23 91.76 L29.61 93.67 L27.77 95.84 L25.82 98.16 L23.86 100.51 L21.97 102.76 L20.26 104.81 L18.82 106.52 L17.76 107.79 L19.44 109.21 L20.52 107.97 L21.98 106.28 L23.73 104.26 L25.66 102.04 L27.67 99.73 L29.65 97.45 L31.52 95.32 L33.17 93.44 L34.63 91.78 L36.01 90.21 L37.31 88.72 L38.57 87.29 L39.80 85.92 L41.02 84.59 L42.25 83.29 L43.51 82.00 L44.87 80.69 L46.35 79.33 L47.87 77.97 L49.38 76.65 L50.82 75.41 L52.11 74.31 L53.20 73.38 L54.03 72.66Z" fill="#f40808" stroke="none"/>
<path d="M69.52 67.87 L69.95 67.71 L70.51 67.52 L71.18 67.28 L71.94 67.02 L72.76 66.72 L73.65 66.41 L74.56 66.08 L75.49 65.74 L76.44 65.40 L77.45 65.05 L78.54 64.69 L79.68 64.29 L80.86 63.87 L82.08 63.40 L83.31 62.88 L84.56 62.30 L85.83 61.63 L87.12 60.88 L88.42 60.09 L89.73 59.27 L91.02 58.45 L92.30 57.66 L93.55 56.92 L94.77 56.27 L95.96 55.69 L97.11 55.16 L98.25 54.66 L99.39 54.20 L100.54 53.74 L101.74 53.28 L102.98 52.81 L104.29 52.31 L105.74 51.77 L107.37 51.17 L109.10 50.56 L110.83 49.94 L112.49 49.36 L113.99 48.84 L115.25 48.40 L116.19 48.07 L115.81 46.93 L114.87 47.22 L113.59 47.61 L112.07 48.07 L110.38 48.58 L108.62 49.12 L106.87 49.67 L105.20 50.20 L103.71 50.69 L102.38 51.13 L101.12 51.55 L99.90 51.96 L98.70 52.38 L97.51 52.81 L96.32 53.27 L95.09 53.77 L93.83 54.33 L92.51 54.97 L91.17 55.68 L89.83 56.44 L88.49 57.21 L87.16 57.97 L85.87 58.69 L84.63 59.34 L83.44 59.90 L82.27 60.39 L81.10 60.83 L79.93 61.22 L78.78 61.58 L77.66 61.92 L76.56 62.24 L75.51 62.55 L74.51 62.86 L73.57 63.16 L72.65 63.45 L71.77 63.73 L70.94 63.98 L70.18 64.22 L69.50 64.42 L68.93 64.60 L68.48 64.73Z" fill="#f40808" stroke="none"/>
<path d="M119.20 51.99 L118.36 53.08 L117.24 54.56 L115.90 56.32 L114.41 58.26 L112.86 60.29 L111.31 62.32 L109.84 64.25 L108.52 65.98 L107.34 67.53 L106.24 68.99 L105.20 70.39 L104.18 71.76 L103.15 73.12 L102.07 74.51 L100.92 75.97 L99.65 77.51 L98.25 79.19 L96.76 80.97 L95.19 82.81 L93.58 84.68 L91.93 86.54 L90.28 88.36 L88.65 90.11 L87.06 91.73 L85.44 93.28 L83.75 94.81 L82.03 96.31 L80.31 97.75 L78.64 99.12 L77.06 100.41 L75.60 101.60 L74.32 102.68 L73.20 103.63 L72.21 104.48 L71.32 105.23 L70.54 105.89 L69.86 106.47 L69.27 106.96 L68.77 107.38 L68.36 107.73 L69.64 109.27 L70.06 108.93 L70.56 108.52 L71.16 108.03 L71.85 107.47 L72.64 106.82 L73.54 106.08 L74.56 105.25 L75.68 104.32 L76.97 103.28 L78.43 102.12 L80.04 100.86 L81.74 99.50 L83.51 98.07 L85.29 96.58 L87.05 95.04 L88.74 93.47 L90.41 91.82 L92.11 90.07 L93.82 88.25 L95.51 86.40 L97.17 84.54 L98.78 82.71 L100.31 80.95 L101.75 79.29 L103.07 77.73 L104.28 76.27 L105.40 74.87 L106.47 73.51 L107.52 72.15 L108.58 70.77 L109.69 69.34 L110.88 67.82 L112.24 66.11 L113.74 64.21 L115.33 62.21 L116.91 60.20 L118.43 58.28 L119.80 56.55 L120.95 55.09 L121.80 54.01Z" fill="#f40808" stroke="none"/>
<circle cx="36.7" cy="41.8" r="2.5" fill="#f40808" stroke="none"/>
<circle cx="116.2" cy="37.3" r="1.3" fill="#d00000" stroke="none"/>
<circle cx="107.8" cy="100.3" r="1.3" fill="#f40808" stroke="none"/>
<circle cx="64.3" cy="75" r="5" fill="url(#bg)" stroke="none"/>
</g>
<path d="M1.5 2 V5.5 H5.5 V2" fill="none" stroke="#3c3c3c" stroke-width="0.7"/><path d="M144.5 102.5 L145.5 104.5 L147.5 102.5" fill="none" stroke="#999" stroke-width="0.7"/>
</symbol></defs></svg>
<svg class="abs" style="left:431px;top:298.3px" width="150" height="108.3" viewBox="0 0 150 108" preserveAspectRatio="none"><use href="#neur" width="150" height="108"/><clipPath id="c1"><path d="M50.5 71.3 C50.5 70.2 51.1 68.1 51.9 66.7 C52.7 65.3 53.8 63.7 55.1 62.8 C56.4 61.9 58.0 61.2 59.7 61.1 C61.5 61.0 63.8 61.4 65.6 61.9 C67.3 62.4 69.3 63.3 70.2 64.1 C71.1 64.9 71.1 65.7 70.8 66.7 C70.5 67.7 69.4 69.1 68.2 70.0 C67.0 70.9 65.5 71.7 63.6 72.3 C61.8 72.9 59.1 73.4 57.1 73.6 C55.1 73.8 53.0 73.7 51.9 73.3 C50.8 72.9 50.5 72.4 50.5 71.3Z"/></clipPath><path d="M50.5 71.3 C50.5 70.2 51.1 68.1 51.9 66.7 C52.7 65.3 53.8 63.7 55.1 62.8 C56.4 61.9 58.0 61.2 59.7 61.1 C61.5 61.0 63.8 61.4 65.6 61.9 C67.3 62.4 69.3 63.3 70.2 64.1 C71.1 64.9 71.1 65.7 70.8 66.7 C70.5 67.7 69.4 69.1 68.2 70.0 C67.0 70.9 65.5 71.7 63.6 72.3 C61.8 72.9 59.1 73.4 57.1 73.6 C55.1 73.8 53.0 73.7 51.9 73.3 C50.8 72.9 50.5 72.4 50.5 71.3Z" fill="#fa0a12"/><ellipse cx="60.8" cy="66.8" rx="11.5" ry="7.6" fill="url(#sg)" clip-path="url(#c1)"/><path d="M50.5 71.3 C50.5 70.2 51.1 68.1 51.9 66.7 C52.7 65.3 53.8 63.7 55.1 62.8 C56.4 61.9 58.0 61.2 59.7 61.1 C61.5 61.0 63.8 61.4 65.6 61.9 C67.3 62.4 69.3 63.3 70.2 64.1 C71.1 64.9 71.1 65.7 70.8 66.7 C70.5 67.7 69.4 69.1 68.2 70.0 C67.0 70.9 65.5 71.7 63.6 72.3 C61.8 72.9 59.1 73.4 57.1 73.6 C55.1 73.8 53.0 73.7 51.9 73.3 C50.8 72.9 50.5 72.4 50.5 71.3Z" fill="none" stroke="#fbf200" stroke-width="1.3" stroke-linejoin="round"/><clipPath id="c2"><path d="M114.7 51.6 C114.5 49.9 115.1 46.8 115.4 45.1 C115.7 43.4 115.7 42.1 116.7 41.2 C117.7 40.3 119.5 39.7 121.3 39.6 C123.1 39.5 125.6 40.4 127.8 40.5 C130.0 40.6 132.7 39.8 134.4 40.1 C136.2 40.4 137.5 41.5 138.3 42.5 C139.1 43.5 139.4 45.1 139.3 46.4 C139.2 47.7 138.6 49.1 137.6 50.3 C136.6 51.5 134.9 52.8 133.1 53.6 C131.2 54.4 128.5 54.4 126.5 54.9 C124.5 55.4 122.9 56.5 121.3 56.6 C119.7 56.7 117.8 56.1 116.7 55.3 C115.6 54.5 114.9 53.3 114.7 51.6Z"/></clipPath><path d="M114.7 51.6 C114.5 49.9 115.1 46.8 115.4 45.1 C115.7 43.4 115.7 42.1 116.7 41.2 C117.7 40.3 119.5 39.7 121.3 39.6 C123.1 39.5 125.6 40.4 127.8 40.5 C130.0 40.6 132.7 39.8 134.4 40.1 C136.2 40.4 137.5 41.5 138.3 42.5 C139.1 43.5 139.4 45.1 139.3 46.4 C139.2 47.7 138.6 49.1 137.6 50.3 C136.6 51.5 134.9 52.8 133.1 53.6 C131.2 54.4 128.5 54.4 126.5 54.9 C124.5 55.4 122.9 56.5 121.3 56.6 C119.7 56.7 117.8 56.1 116.7 55.3 C115.6 54.5 114.9 53.3 114.7 51.6Z" fill="#fa0a12"/><ellipse cx="127.3" cy="46.8" rx="14.0" ry="10.0" fill="url(#sg)" clip-path="url(#c2)"/><path d="M114.7 51.6 C114.5 49.9 115.1 46.8 115.4 45.1 C115.7 43.4 115.7 42.1 116.7 41.2 C117.7 40.3 119.5 39.7 121.3 39.6 C123.1 39.5 125.6 40.4 127.8 40.5 C130.0 40.6 132.7 39.8 134.4 40.1 C136.2 40.4 137.5 41.5 138.3 42.5 C139.1 43.5 139.4 45.1 139.3 46.4 C139.2 47.7 138.6 49.1 137.6 50.3 C136.6 51.5 134.9 52.8 133.1 53.6 C131.2 54.4 128.5 54.4 126.5 54.9 C124.5 55.4 122.9 56.5 121.3 56.6 C119.7 56.7 117.8 56.1 116.7 55.3 C115.6 54.5 114.9 53.3 114.7 51.6Z" fill="none" stroke="#fbf200" stroke-width="1.3" stroke-linejoin="round"/><ellipse cx="60.2" cy="64.2" rx="3.6" ry="2.4" fill="#7c58e6" opacity="0.62" filter="url(#bl)"/><ellipse cx="125.0" cy="45.2" rx="2.9" ry="2.5" fill="#7c58e6" opacity="0.62" filter="url(#bl)"/><ellipse cx="130.8" cy="45.8" rx="2.9" ry="2.5" fill="#7c58e6" opacity="0.62" filter="url(#bl)"/></svg>
<svg class="abs" style="left:586px;top:298.3px" width="151" height="108.3" viewBox="0 0 150 108" preserveAspectRatio="none"><use href="#neur" width="150" height="108"/><clipPath id="c3"><path d="M49.2 73.6 C49.1 72.8 50.5 71.4 51.2 70.0 C51.9 68.6 52.3 66.7 53.2 65.4 C54.1 64.1 55.1 62.8 56.4 62.1 C57.7 61.4 59.4 61.1 61.0 61.1 C62.6 61.1 64.9 61.9 66.3 62.4 C67.7 62.9 68.3 63.7 69.5 64.1 C70.7 64.4 73.0 64.1 73.5 64.5 C74.0 64.9 73.1 65.8 72.2 66.7 C71.3 67.6 69.6 69.0 68.2 70.0 C66.8 71.0 65.5 71.9 63.6 72.6 C61.8 73.3 59.1 73.8 57.1 74.2 C55.1 74.6 53.2 75.1 51.9 75.0 C50.6 74.9 49.3 74.4 49.2 73.6Z"/></clipPath><path d="M49.2 73.6 C49.1 72.8 50.5 71.4 51.2 70.0 C51.9 68.6 52.3 66.7 53.2 65.4 C54.1 64.1 55.1 62.8 56.4 62.1 C57.7 61.4 59.4 61.1 61.0 61.1 C62.6 61.1 64.9 61.9 66.3 62.4 C67.7 62.9 68.3 63.7 69.5 64.1 C70.7 64.4 73.0 64.1 73.5 64.5 C74.0 64.9 73.1 65.8 72.2 66.7 C71.3 67.6 69.6 69.0 68.2 70.0 C66.8 71.0 65.5 71.9 63.6 72.6 C61.8 73.3 59.1 73.8 57.1 74.2 C55.1 74.6 53.2 75.1 51.9 75.0 C50.6 74.9 49.3 74.4 49.2 73.6Z" fill="#fa0a12"/><ellipse cx="60.8" cy="66.8" rx="11.5" ry="7.6" fill="url(#sg)" clip-path="url(#c3)"/><path d="M49.2 73.6 C49.1 72.8 50.5 71.4 51.2 70.0 C51.9 68.6 52.3 66.7 53.2 65.4 C54.1 64.1 55.1 62.8 56.4 62.1 C57.7 61.4 59.4 61.1 61.0 61.1 C62.6 61.1 64.9 61.9 66.3 62.4 C67.7 62.9 68.3 63.7 69.5 64.1 C70.7 64.4 73.0 64.1 73.5 64.5 C74.0 64.9 73.1 65.8 72.2 66.7 C71.3 67.6 69.6 69.0 68.2 70.0 C66.8 71.0 65.5 71.9 63.6 72.6 C61.8 73.3 59.1 73.8 57.1 74.2 C55.1 74.6 53.2 75.1 51.9 75.0 C50.6 74.9 49.3 74.4 49.2 73.6Z" fill="none" stroke="#fbf200" stroke-width="1.3" stroke-linejoin="round"/><clipPath id="c4"><path d="M115.4 56.2 C115.2 54.8 115.7 51.3 115.8 49.0 C115.9 46.7 115.8 44.4 116.0 42.5 C116.2 40.6 116.6 38.3 117.3 37.9 C118.0 37.5 118.7 39.8 120.0 40.1 C121.3 40.4 123.0 39.9 125.2 39.9 C127.4 39.9 130.7 39.7 133.1 39.9 C135.5 40.1 138.0 40.4 139.6 40.9 C141.2 41.4 142.1 41.9 142.5 43.1 C142.9 44.4 142.8 47.0 142.0 48.4 C141.2 49.8 139.1 50.6 137.6 51.6 C136.1 52.6 134.9 53.6 133.1 54.3 C131.2 55.0 128.6 55.4 126.5 55.8 C124.4 56.2 122.2 56.6 120.6 56.9 C119.0 57.2 117.6 57.6 116.7 57.5 C115.8 57.4 115.6 57.6 115.4 56.2Z"/></clipPath><path d="M115.4 56.2 C115.2 54.8 115.7 51.3 115.8 49.0 C115.9 46.7 115.8 44.4 116.0 42.5 C116.2 40.6 116.6 38.3 117.3 37.9 C118.0 37.5 118.7 39.8 120.0 40.1 C121.3 40.4 123.0 39.9 125.2 39.9 C127.4 39.9 130.7 39.7 133.1 39.9 C135.5 40.1 138.0 40.4 139.6 40.9 C141.2 41.4 142.1 41.9 142.5 43.1 C142.9 44.4 142.8 47.0 142.0 48.4 C141.2 49.8 139.1 50.6 137.6 51.6 C136.1 52.6 134.9 53.6 133.1 54.3 C131.2 55.0 128.6 55.4 126.5 55.8 C124.4 56.2 122.2 56.6 120.6 56.9 C119.0 57.2 117.6 57.6 116.7 57.5 C115.8 57.4 115.6 57.6 115.4 56.2Z" fill="#fa0a12"/><ellipse cx="127.3" cy="46.8" rx="14.0" ry="10.0" fill="url(#sg)" clip-path="url(#c4)"/><path d="M115.4 56.2 C115.2 54.8 115.7 51.3 115.8 49.0 C115.9 46.7 115.8 44.4 116.0 42.5 C116.2 40.6 116.6 38.3 117.3 37.9 C118.0 37.5 118.7 39.8 120.0 40.1 C121.3 40.4 123.0 39.9 125.2 39.9 C127.4 39.9 130.7 39.7 133.1 39.9 C135.5 40.1 138.0 40.4 139.6 40.9 C141.2 41.4 142.1 41.9 142.5 43.1 C142.9 44.4 142.8 47.0 142.0 48.4 C141.2 49.8 139.1 50.6 137.6 51.6 C136.1 52.6 134.9 53.6 133.1 54.3 C131.2 55.0 128.6 55.4 126.5 55.8 C124.4 56.2 122.2 56.6 120.6 56.9 C119.0 57.2 117.6 57.6 116.7 57.5 C115.8 57.4 115.6 57.6 115.4 56.2Z" fill="none" stroke="#fbf200" stroke-width="1.3" stroke-linejoin="round"/><ellipse cx="60.2" cy="64.2" rx="3.6" ry="2.4" fill="#7c58e6" opacity="0.62" filter="url(#bl)"/><ellipse cx="125.0" cy="45.2" rx="2.9" ry="2.5" fill="#7c58e6" opacity="0.62" filter="url(#bl)"/><ellipse cx="130.8" cy="45.8" rx="2.9" ry="2.5" fill="#7c58e6" opacity="0.62" filter="url(#bl)"/></svg>
<svg class="abs" style="left:741px;top:298.3px" width="151" height="108.3" viewBox="0 0 150 108" preserveAspectRatio="none"><use href="#neur" width="150" height="108"/><clipPath id="c5"><path d="M45.3 77.8 L51.9 71.3 L53.8 65.4 L57.1 62.1 L61.7 61.1 L66.3 62.4 L70.2 64.1 L78.7 61.9 L79.6 64.7 L72.2 67.1 L68.2 70.0 L63.6 72.6 L57.1 74.6 L51.9 76.5 L46.6 79.8Z"/></clipPath><path d="M45.3 77.8 L51.9 71.3 L53.8 65.4 L57.1 62.1 L61.7 61.1 L66.3 62.4 L70.2 64.1 L78.7 61.9 L79.6 64.7 L72.2 67.1 L68.2 70.0 L63.6 72.6 L57.1 74.6 L51.9 76.5 L46.6 79.8Z" fill="#fa0a12"/><ellipse cx="60.8" cy="66.8" rx="11.5" ry="7.6" fill="url(#sg)" clip-path="url(#c5)"/><path d="M45.3 77.8 L51.9 71.3 L53.8 65.4 L57.1 62.1 L61.7 61.1 L66.3 62.4 L70.2 64.1 L78.7 61.9 L79.6 64.7 L72.2 67.1 L68.2 70.0 L63.6 72.6 L57.1 74.6 L51.9 76.5 L46.6 79.8Z" fill="none" stroke="#fbf200" stroke-width="1.3" stroke-linejoin="round"/><clipPath id="c6"><path d="M118.0 36.6 L116.7 42.5 L116.0 50.3 L115.4 56.2 L112.1 61.5 L114.1 62.4 L118.6 57.5 L126.5 55.8 L134.4 53.6 L140.9 49.0 L148.8 44.4 L149.4 40.5 L140.9 40.1 L133.1 39.6 L125.2 39.9 L120.0 39.6Z"/></clipPath><path d="M118.0 36.6 L116.7 42.5 L116.0 50.3 L115.4 56.2 L112.1 61.5 L114.1 62.4 L118.6 57.5 L126.5 55.8 L134.4 53.6 L140.9 49.0 L148.8 44.4 L149.4 40.5 L140.9 40.1 L133.1 39.6 L125.2 39.9 L120.0 39.6Z" fill="#fa0a12"/><ellipse cx="127.3" cy="46.8" rx="14.0" ry="10.0" fill="url(#sg)" clip-path="url(#c6)"/><path d="M118.0 36.6 L116.7 42.5 L116.0 50.3 L115.4 56.2 L112.1 61.5 L114.1 62.4 L118.6 57.5 L126.5 55.8 L134.4 53.6 L140.9 49.0 L148.8 44.4 L149.4 40.5 L140.9 40.1 L133.1 39.6 L125.2 39.9 L120.0 39.6Z" fill="none" stroke="#fbf200" stroke-width="1.3" stroke-linejoin="round"/><ellipse cx="60.2" cy="64.2" rx="3.6" ry="2.4" fill="#7c58e6" opacity="0.62" filter="url(#bl)"/><ellipse cx="125.0" cy="45.2" rx="2.9" ry="2.5" fill="#7c58e6" opacity="0.62" filter="url(#bl)"/><ellipse cx="130.8" cy="45.8" rx="2.9" ry="2.5" fill="#7c58e6" opacity="0.62" filter="url(#bl)"/></svg>
</div>
</body>
</html>
